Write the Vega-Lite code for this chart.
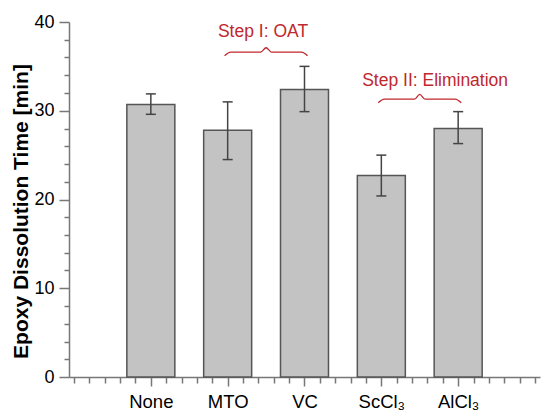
{
  "$schema": "https://vega.github.io/schema/vega-lite/v6.json",
  "width": 471,
  "height": 355,
  "autosize": {"type": "none"},
  "padding": {"left": 69, "top": 22, "right": 2, "bottom": 34},
  "config": {"view": {"stroke": null}, "font": "Liberation Sans"},
  "datasets": {
    "bars": [
      {"cat": "None", "pos": 1, "mean": 30.7, "lo": 29.6, "hi": 31.9},
      {"cat": "MTO", "pos": 2, "mean": 27.8, "lo": 24.5, "hi": 31.0},
      {"cat": "VC", "pos": 3, "mean": 32.4, "lo": 29.9, "hi": 35.0},
      {"cat": "ScCl3", "pos": 4, "mean": 22.7, "lo": 20.4, "hi": 25.0},
      {"cat": "AlCl3", "pos": 5, "mean": 28.0, "lo": 26.3, "hi": 29.9}
    ],
    "braces": [
      {"g": "A", "bx": 1.96, "by": 36.2},
      {"g": "A", "bx": 2.04, "by": 36.6},
      {"g": "A", "bx": 2.43, "by": 36.6},
      {"g": "A", "bx": 2.5, "by": 37.1},
      {"g": "A", "bx": 2.57, "by": 36.6},
      {"g": "A", "bx": 2.96, "by": 36.6},
      {"g": "A", "bx": 3.04, "by": 36.2},
      {"g": "B", "bx": 3.96, "by": 30.9},
      {"g": "B", "bx": 4.04, "by": 31.3},
      {"g": "B", "bx": 4.43, "by": 31.3},
      {"g": "B", "bx": 4.5, "by": 31.85},
      {"g": "B", "bx": 4.57, "by": 31.3},
      {"g": "B", "bx": 4.96, "by": 31.3},
      {"g": "B", "bx": 5.04, "by": 30.9}
    ],
    "notes": [
      {"label": "Step I: OAT", "tx": 2.46, "ty": 38.9},
      {"label": "Step II: Elimination", "tx": 4.7, "ty": 33.4}
    ]
  },
  "layer": [
    {
      "data": {"name": "bars"},
      "mark": {"type": "bar", "width": 48, "fill": "#c3c3c3", "stroke": "#555555", "strokeWidth": 1.5},
      "encoding": {
        "x": {
          "field": "pos", "type": "quantitative",
          "scale": {"domain": [0, 6], "nice": false, "zero": false},
          "axis": {
            "title": null,
            "grid": false,
            "tickCount": 200,
            "values": [0, 0.2, 0.4, 0.6, 0.8, 1, 1.2, 1.4, 1.6, 1.8, 2, 2.2, 2.4, 2.6, 2.8, 3, 3.2, 3.4, 3.6, 3.8, 4, 4.2, 4.4, 4.6, 4.8, 5, 5.2, 5.4, 5.6, 5.8, 6],
            "labelExpr": "(abs(datum.value - round(datum.value)) < 0.01 && datum.value >= 1 && datum.value <= 5) ? ['', 'None', 'MTO', 'VC', 'ScCl₃', 'AlCl₃', ''][round(datum.value)] : ''",
            "tickSize": {"condition": {"test": "abs(datum.value - round(datum.value)) < 0.01 && datum.value >= 1 && datum.value <= 5", "value": 9}, "value": 6},
            "labelFontSize": 18.5,
            "labelColor": "#000000",
            "labelPadding": 6,
            "labelFlush": false,
            "labelOverlap": false,
            "labelBound": false,
            "domainColor": "#777777",
            "tickColor": "#777777",
            "domainWidth": 1.5,
            "tickWidth": 1.5
          }
        },
        "y": {
          "field": "mean", "type": "quantitative",
          "scale": {"domain": [0, 40], "nice": false},
          "axis": {
            "title": "Epoxy Dissolution Time [min]",
            "titleFontSize": 21,
            "titleFontWeight": "bold",
            "titleColor": "#000000",
            "titlePadding": 2,
            "titleY": 189,
            "grid": false,
            "tickCount": 200,
            "format": "d",
            "values": [0, 2, 4, 6, 8, 10, 12, 14, 16, 18, 20, 22, 24, 26, 28, 30, 32, 34, 36, 38, 40],
            "labelExpr": "datum.value % 10 === 0 ? datum.label : ''",
            "tickSize": {"condition": {"test": "datum.value % 10 === 0", "value": 10}, "value": 5},
            "labelFontSize": 18,
            "labelColor": "#000000",
            "labelPadding": 5,
            "labelFlush": false,
            "labelOverlap": false,
            "labelBound": false,
            "domainColor": "#777777",
            "tickColor": "#777777",
            "domainWidth": 1.5,
            "tickWidth": 1.5
          }
        }
      }
    },
    {
      "data": {"name": "bars"},
      "mark": {"type": "rule", "color": "#444444", "strokeWidth": 1.5},
      "encoding": {
        "x": {"field": "pos", "type": "quantitative"},
        "y": {"field": "lo", "type": "quantitative"},
        "y2": {"field": "hi"}
      }
    },
    {
      "data": {"name": "bars"},
      "mark": {"type": "tick", "orient": "horizontal", "size": 10, "thickness": 1.5, "color": "#444444", "opacity": 1},
      "encoding": {
        "x": {"field": "pos", "type": "quantitative"},
        "y": {"field": "lo", "type": "quantitative"}
      }
    },
    {
      "data": {"name": "bars"},
      "mark": {"type": "tick", "orient": "horizontal", "size": 10, "thickness": 1.5, "color": "#444444", "opacity": 1},
      "encoding": {
        "x": {"field": "pos", "type": "quantitative"},
        "y": {"field": "hi", "type": "quantitative"}
      }
    },
    {
      "data": {"name": "braces"},
      "mark": {"type": "line", "color": "#c0282d", "strokeWidth": 1.3, "interpolate": "monotone"},
      "encoding": {
        "x": {"field": "bx", "type": "quantitative"},
        "y": {"field": "by", "type": "quantitative"},
        "detail": {"field": "g"}
      }
    },
    {
      "data": {"name": "notes"},
      "mark": {"type": "text", "color": "#c0282d", "fontSize": 17.5, "baseline": "middle", "align": "center"},
      "encoding": {
        "x": {"field": "tx", "type": "quantitative"},
        "y": {"field": "ty", "type": "quantitative"},
        "text": {"field": "label"}
      }
    }
  ]
}
